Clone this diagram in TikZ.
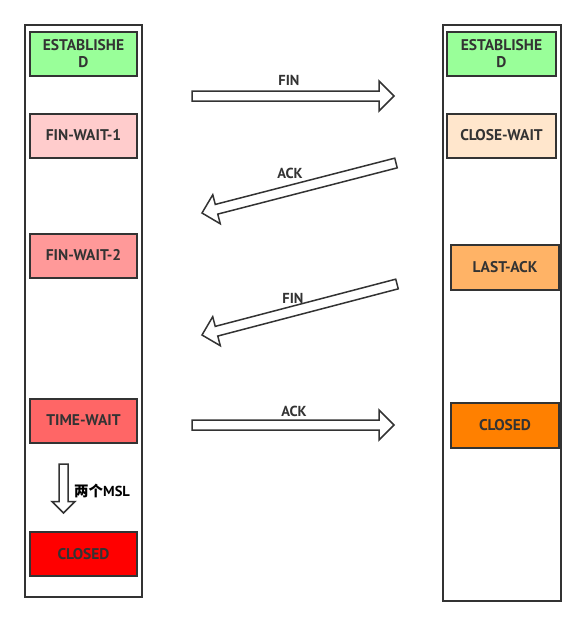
\documentclass[tikz,border=0pt]{standalone}
\usepackage{fontspec}
\setmainfont{PT Sans}
\newfontfamily\cjk{Noto Sans CJK SC}
\usepackage{xcolor}
\usetikzlibrary{calc}
\definecolor{ink}{HTML}{333333}
\definecolor{estab}{HTML}{99FF99}
\definecolor{fwone}{HTML}{FFCCCC}
\definecolor{fwtwo}{HTML}{FF9999}
\definecolor{twait}{HTML}{FF6666}
\definecolor{lclosed}{HTML}{FF0000}
\definecolor{cwait}{HTML}{FFE6CC}
\definecolor{lastack}{HTML}{FFB366}
\definecolor{rclosed}{HTML}{FF8000}
\tikzset{
  state/.style={draw=ink,line width=2pt,text=ink,inner sep=0pt,align=center,
    font=\fontsize{15.5}{17}\selectfont\bfseries,minimum width=107pt,minimum height=44pt},
  lane/.style={draw=ink,line width=2pt},
  fatarr/.style={draw=ink,line width=1.5pt,fill=white,line join=miter},
  msg/.style={text=ink,font=\fontsize{14.5}{16}\selectfont\bfseries},
}
% #1 tail, #2 tip, #3 half shaft, #4 half head
\newcommand{\fatarrow}[4]{%
  \path coordinate (hb) at ($(#2)!#4!(#1)$);
  \draw[fatarr] ($(#1)!#3!90:(#2)$) -- ($(hb)!#3!90:(#2)$) -- ($(hb)!#4!90:(#2)$) -- (#2)
    -- ($(hb)!#4!-90:(#2)$) -- ($(hb)!#3!-90:(#2)$) -- ($(#1)!#3!-90:(#2)$) -- cycle;
}
\begin{document}
\begin{tikzpicture}[x=1pt,y=-1pt]
\useasboundingbox (0,0) rectangle (586,627);
% lanes
\draw[lane] (25,25) rectangle (142,597);
\draw[lane] (443,25) rectangle (561,601);
% client
\node[state,fill=estab] (cest) at (83.5,53.5) {ESTABLISHE\\D};
\node[state,fill=fwone] (fw1) at (83.5,135.5) {FIN-WAIT-1};
\node[state,fill=fwtwo] (fw2) at (83.5,255.5) {FIN-WAIT-2};
\node[state,fill=twait] (tw) at (83.5,420.5) {TIME-WAIT};
\node[state,fill=lclosed] (cclosed) at (83.5,554) {CLOSED};
% server
\node[state,fill=estab,minimum width=109pt] (sest) at (501.5,54) {ESTABLISHE\\D};
\node[state,fill=cwait,minimum width=109pt] (cw) at (501.5,135.5) {CLOSE-WAIT};
\node[state,fill=lastack,minimum width=108pt,minimum height=45pt] (la) at (505,267) {LAST-ACK};
\node[state,fill=rclosed,minimum width=108pt,minimum height=45pt] (sclosed) at (505,425) {CLOSED};
% messages
\coordinate (finA) at (192,96);  \coordinate (finB) at (394,96);
\coordinate (ackA) at (396,163); \coordinate (ackB) at (202,213);
\coordinate (finC) at (397,284); \coordinate (finD) at (202,335);
\coordinate (ackC) at (192,425); \coordinate (ackD) at (394,425);
\coordinate (mslA) at (63.5,464); \coordinate (mslB) at (63.5,513);
\fatarrow{finA}{finB}{5pt}{15pt}
\fatarrow{ackA}{ackB}{5pt}{15pt}
\fatarrow{finC}{finD}{5pt}{15pt}
\fatarrow{ackC}{ackD}{5pt}{15pt}
\fatarrow{mslA}{mslB}{4.5pt}{11.5pt}
\node[msg] (l1) at (289,80) {FIN};
\node[msg] (l2) at (290,173) {ACK};
\node[msg] (l3) at (293,298) {FIN};
\node[msg] (l4) at (294,411) {ACK};
\node[msg,text=black,anchor=west,inner sep=0pt] (l5) at (74,491) {{\cjk 两个}MSL};
\end{tikzpicture}
\end{document}
